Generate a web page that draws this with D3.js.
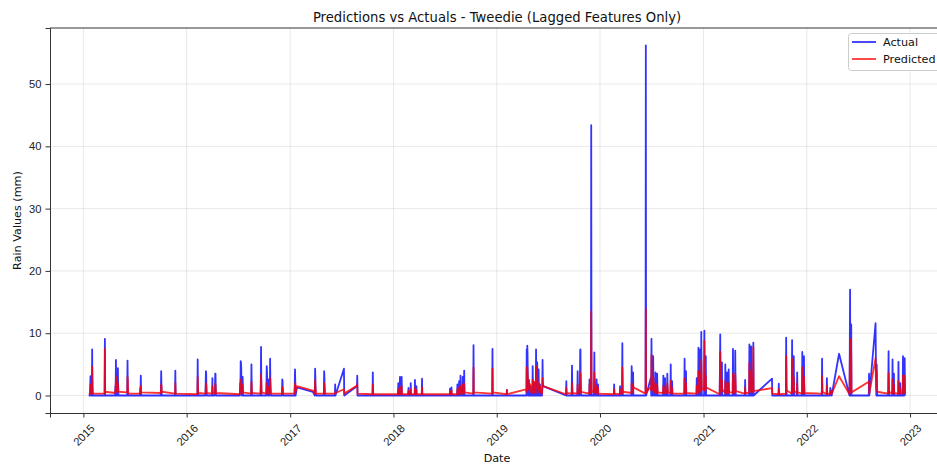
<!DOCTYPE html>
<html>
<head>
<meta charset="utf-8">
<script src="https://cdn.jsdelivr.net/npm/d3@7"></script>
<style>
  body { margin: 0; background: #fff; }
  svg { display: block; font-family: "DejaVu Sans", sans-serif; }
  .tick-label { font-size: 11.2px; fill: #222; }
</style>
</head>
<body>
<svg id="chart" width="937" height="468"></svg>
<script>
// one line per cluster of rainy days, the three arrays stay aligned line by line
const dates = [
  "2015-01-20","2015-01-24","2015-01-25","2015-01-26","2015-01-27","2015-01-28",
  "2015-01-31","2015-02-01","2015-02-02","2015-02-03","2015-02-04",
  "2015-03-17","2015-03-18","2015-03-19",
  "2015-04-23","2015-04-24","2015-04-25","2015-04-26","2015-04-27","2015-04-28","2015-04-30","2015-05-01","2015-05-02","2015-05-03","2015-05-04","2015-05-05",
  "2015-06-05","2015-06-06","2015-06-07","2015-06-08","2015-06-09",
  "2015-07-20","2015-07-21","2015-07-22","2015-07-23","2015-07-24",
  "2015-10-01","2015-10-02","2015-10-03","2015-10-04","2015-10-05",
  "2015-11-21","2015-11-22","2015-11-23","2015-11-24",
  "2016-02-08","2016-02-09","2016-02-10","2016-02-11",
  "2016-03-07","2016-03-08","2016-03-09","2016-03-10","2016-03-11","2016-03-12",
  "2016-03-31","2016-04-01","2016-04-02",
  "2016-04-09","2016-04-10","2016-04-11","2016-04-12","2016-04-13","2016-04-14",
  "2016-07-07","2016-07-08","2016-07-09","2016-07-10","2016-07-11","2016-07-12","2016-07-13","2016-07-14","2016-07-16","2016-07-17","2016-07-18",
  "2016-08-16","2016-08-17","2016-08-18","2016-08-19",
  "2016-09-18","2016-09-19","2016-09-20","2016-09-21","2016-09-22",
  "2016-10-08","2016-10-09","2016-10-10","2016-10-11","2016-10-12","2016-10-13","2016-10-15","2016-10-16","2016-10-17",
  "2016-10-20","2016-10-21","2016-10-22","2016-10-23","2016-10-24","2016-10-25",
  "2016-12-03","2016-12-04","2016-12-05","2016-12-06","2016-12-07",
  "2017-01-16","2017-01-17","2017-01-18","2017-01-19","2017-01-20","2017-01-25",
  "2017-03-22","2017-03-29","2017-03-30","2017-03-31","2017-04-01","2017-04-02",
  "2017-04-30","2017-05-01","2017-05-02","2017-05-03","2017-05-04",
  "2017-06-08","2017-06-09","2017-06-10",
  "2017-07-10","2017-07-11",
  "2017-08-25","2017-08-26","2017-08-27",
  "2017-10-19","2017-10-20","2017-10-21",
  "2018-01-17","2018-01-18","2018-01-19","2018-01-23","2018-01-24","2018-01-25","2018-01-29","2018-01-30","2018-01-31",
  "2018-02-22","2018-02-23","2018-02-24","2018-03-02","2018-03-03","2018-03-04",
  "2018-03-17","2018-03-18","2018-03-19","2018-03-22","2018-03-23","2018-03-24","2018-04-11","2018-04-12","2018-04-13",
  "2018-07-19","2018-07-20","2018-07-21","2018-07-24","2018-07-25","2018-07-26",
  "2018-08-14","2018-08-15","2018-08-16","2018-08-17","2018-08-20","2018-08-21","2018-08-22","2018-08-23",
  "2018-08-25","2018-08-26","2018-08-27","2018-08-28","2018-09-02","2018-09-03","2018-09-04","2018-09-05","2018-09-06","2018-09-07","2018-09-08","2018-09-09",
  "2018-10-10","2018-10-11","2018-10-12","2018-12-16","2018-12-17","2018-12-18",
  "2019-02-05","2019-02-06","2019-02-07","2019-04-14",
  "2019-04-16","2019-04-17","2019-04-18","2019-04-19","2019-04-20","2019-04-21","2019-04-22","2019-04-23","2019-04-24","2019-04-25","2019-04-26","2019-04-27",
  "2019-04-29","2019-04-30","2019-05-01","2019-05-02","2019-05-07","2019-05-08","2019-05-09","2019-05-10","2019-05-13","2019-05-14","2019-05-15","2019-05-16",
  "2019-05-19","2019-05-20","2019-05-21","2019-05-22","2019-05-23","2019-05-24","2019-05-25","2019-05-26","2019-05-28","2019-05-29","2019-05-30","2019-05-31",
  "2019-06-02","2019-06-03","2019-06-04","2019-06-05","2019-06-10","2019-06-11","2019-06-12","2019-06-13","2019-06-14",
  "2019-09-03","2019-09-04","2019-09-05","2019-09-23","2019-09-24","2019-09-25","2019-09-26",
  "2019-10-13","2019-10-14","2019-10-15","2019-10-16","2019-10-21","2019-10-22","2019-10-23","2019-10-24","2019-10-25","2019-10-26",
  "2019-11-24","2019-11-25","2019-11-26","2019-11-27","2019-11-30","2019-12-01","2019-12-02","2019-12-03",
  "2019-12-10","2019-12-11","2019-12-12","2019-12-13","2019-12-14","2019-12-18","2019-12-19","2019-12-20","2019-12-21","2019-12-24","2019-12-25","2019-12-26",
  "2020-02-19","2020-02-20","2020-02-21","2020-03-11","2020-03-12","2020-03-13","2020-03-19","2020-03-20","2020-03-21","2020-03-22",
  "2020-04-21","2020-04-22","2020-04-23","2020-04-24","2020-04-26","2020-04-27","2020-04-28",
  "2020-06-10","2020-06-11","2020-06-12","2020-06-29","2020-06-30","2020-07-01","2020-07-02","2020-07-03",
  "2020-07-06","2020-07-07","2020-07-08","2020-07-09","2020-07-10","2020-07-14","2020-07-15","2020-07-16","2020-07-20","2020-07-21","2020-07-22","2020-07-23",
  "2020-08-11","2020-08-12","2020-08-13","2020-08-17","2020-08-18","2020-08-19","2020-08-25","2020-08-26","2020-08-27","2020-08-28",
  "2020-09-06","2020-09-07","2020-09-08","2020-09-11","2020-09-12","2020-09-13","2020-10-25","2020-10-26","2020-10-27","2020-10-28","2020-10-30","2020-10-31","2020-11-01",
  "2020-12-07","2020-12-08","2020-12-09","2020-12-13","2020-12-14","2020-12-15","2020-12-16","2020-12-19","2020-12-20","2020-12-21","2020-12-23","2020-12-24","2020-12-25","2020-12-26",
  "2021-01-03","2021-01-04","2021-01-05","2021-01-06","2021-01-08","2021-01-09","2021-01-10",
  "2021-02-27","2021-03-01","2021-03-02","2021-03-03","2021-03-06","2021-03-07","2021-03-08","2021-03-18","2021-03-19","2021-03-20","2021-03-24","2021-03-25","2021-03-26","2021-03-30","2021-03-31","2021-04-01",
  "2021-04-14","2021-04-15","2021-04-16","2021-04-17","2021-04-22","2021-04-23","2021-04-24","2021-04-25",
  "2021-05-27","2021-05-28","2021-05-29","2021-06-11","2021-06-12","2021-06-13","2021-06-14","2021-06-17","2021-06-18","2021-06-19","2021-06-20","2021-06-25","2021-06-26","2021-06-27",
  "2021-08-31","2021-09-01","2021-09-23","2021-09-24","2021-09-25",
  "2021-10-19","2021-10-20","2021-10-21","2021-10-22","2021-11-09","2021-11-10","2021-11-11","2021-11-12","2021-11-15","2021-11-16","2021-11-17","2021-11-27","2021-11-28","2021-11-29",
  "2021-12-15","2021-12-16","2021-12-17","2021-12-21","2021-12-22","2021-12-23","2021-12-24",
  "2022-02-23","2022-02-24","2022-02-25","2022-03-12","2022-03-13","2022-03-14","2022-03-24","2022-03-25","2022-03-30",
  "2022-04-25","2022-06-01","2022-06-03","2022-06-04","2022-06-06","2022-06-07","2022-06-08",
  "2022-08-08","2022-08-09","2022-08-10","2022-09-01","2022-09-02","2022-09-03","2022-09-04","2022-09-05","2022-09-06","2022-09-07",
  "2022-10-15","2022-10-16","2022-10-17","2022-10-18","2022-10-19","2022-10-30","2022-10-31","2022-11-01","2022-11-02","2022-11-04","2022-11-05","2022-11-06",
  "2022-11-20","2022-11-21","2022-11-22","2022-11-23","2022-11-26","2022-11-27","2022-11-28","2022-12-05","2022-12-06","2022-12-07","2022-12-08","2022-12-09","2022-12-11","2022-12-12","2022-12-13","2022-12-14"
];

const actual = [
  0,0,1.2,3.1,0.5,0,
  0,7.4,1.2,0,0,
  0,9.1,0,
  0,1.5,0,5.7,2.0,0,0,2.5,0,4.4,1.0,0,
  0,5.6,1.0,0,0,
  0,1.2,0.8,3.2,0,
  0,1.0,3.9,1.5,0,
  0,4.0,0,0,
  0,5.8,0.8,0,
  0,1.2,3.9,3.6,0.6,0,
  0,2.8,0,
  0,1.0,3.5,3.5,0.5,0,
  0,2.0,1.0,5.5,5.3,4.4,0.8,0,0,3.0,0,
  0,5.0,1.2,0,
  0,2.0,7.8,1.0,0,
  0,1.5,4.7,3.9,0.6,0,0,2.6,0,
  0,1.0,5.9,2.0,0.5,0,
  0,2.6,2.3,0.4,0,
  0,1.5,4.2,2.0,0,1.3,
  0.6,0,4.3,2.8,0.5,0,
  0,3.9,3.0,0.4,0,
  0,1.8,0,
  4.3,0,
  1.5,3.2,0,
  0,3.7,0,
  0,2.0,0,0,3.0,0,0,3.0,0,
  0,1.2,0,0,2.0,0,
  0,2.5,0,0,1.5,0,0,2.7,0,
  0,1.1,0,0,1.3,0,
  0,1.8,0.6,0,0,2.3,1.0,0,
  0,3.2,1.0,0,0,3.0,1.2,0,0,1.5,4.0,0,
  0,8.1,0,0,7.5,0,
  0,0.9,0,0,
  0,7.4,1.5,8.0,6.6,2.0,0,0.8,0,2.5,1.0,0,
  0,1.5,0.5,0,0,4.7,1.8,0,0,2.0,0.6,0,
  0,7.4,2.5,1.0,0,5.3,2.0,0,0,4.2,1.0,0,
  0,1.8,0.6,0,0,1.2,5.7,2.0,1.5,
  0,2.3,0,0,4.8,1.0,0,
  0,3.9,0.8,0,0,1.5,7.3,7.4,1.2,0,
  0,2.6,0.8,0,0,43.4,0.8,0,
  0,1.5,6.9,1.0,0,0,1.0,2.6,0,0,1.8,0,
  0,1.8,0,0,1.5,0,0,8.4,1.0,0,
  0,4.7,1.2,0,0,3.7,0,
  0,56.2,0,2.9,0,9.1,1.5,0,
  0,6.3,2.0,0.5,0,0,3.7,0,0,3.5,1.0,0,
  0,3.2,0,0,2.8,0,0,3.5,1.0,0,
  0,5.0,0,0,2.3,0,0,5.9,1.5,0,0,3.9,0,
  0,2.8,0,0,7.7,2.0,0,0,7.4,0,0,10.2,2.5,0,
  0,10.4,2.0,0,0,6.3,0,
  0,9.8,1.5,0,0,5.3,0,0,5.0,0,0,3.7,0,0,4.2,0,
  0,7.5,1.5,0,0,7.2,2.0,0,
  0,2.5,0,0,8.2,1.5,0,0,7.9,2.0,0,0,8.5,0,
  2.7,0,0,1.9,0,
  0,9.3,1.5,0,0,8.9,2.0,0,0,6.3,0,0,3.7,0,
  0,7.0,0,0,6.3,1.0,0,
  0,5.9,0,0,2.8,0,0,1.2,0,
  6.7,0,17.0,0,0,11.4,0,
  0,3.5,0,11.6,6.7,1.0,0,5.0,1.0,0,
  0,1.2,7.1,1.5,0,0,5.8,0.8,0,0,3.5,0,
  0,5.4,1.0,0,0,2.0,0,0,1.5,6.3,1.2,0,0,2.0,6.0,0
];

const predicted = [
  0.2,0.2,0.6,1.8,1.0,0.5,
  0.4,4.6,2.2,0.8,0.3,
  0.3,7.5,0.6,
  0.4,0.8,1.0,3.1,2.5,1.2,0.6,1.4,1.0,2.0,1.6,0.6,
  0.5,3.0,2.4,0.8,0.3,
  0.3,0.6,1.0,1.5,0.5,
  0.4,0.6,1.8,1.6,0.6,
  0.3,2.0,0.6,0.3,
  0.2,3.0,1.6,0.4,
  0.3,0.6,2.0,1.8,1.2,0.4,
  0.3,1.5,0.6,
  0.3,0.6,1.9,1.7,1.0,0.4,
  0.2,1.0,1.2,2.6,2.4,1.8,1.5,0.6,0.4,1.8,0.5,
  0.3,2.2,1.4,0.4,
  0.3,1.0,3.4,2.0,0.5,
  0.3,0.8,2.0,1.9,1.2,0.4,0.3,1.4,0.5,
  0.3,0.6,2.8,2.0,1.0,0.3,
  0.3,1.4,1.3,0.9,0.3,
  0.3,0.8,1.8,2.0,0.6,1.5,
  0.8,0.3,2.5,1.4,1.0,0.3,
  0.3,2.0,1.6,0.9,0.3,
  0.3,0.6,0.4,
  1.0,0.3,
  1.6,1.9,0.3,
  0.2,1.8,0.2,
  0.2,1.0,0.2,0.2,1.4,0.2,0.2,1.5,0.2,
  0.2,0.7,0.2,0.2,1.0,0.2,
  0.2,1.2,0.2,0.2,0.9,0.2,0.2,1.3,0.2,
  0.2,0.7,0.2,0.2,0.8,0.2,
  0.2,1.0,0.8,0.3,0.2,1.2,1.0,0.3,
  0.3,1.5,1.2,0.4,0.3,1.8,1.4,0.6,0.3,0.9,1.9,0.5,
  0.3,4.5,0.5,0.3,4.3,0.5,
  0.2,0.9,0.2,1.0,
  0.6,4.5,3.0,4.6,3.5,3.0,1.8,1.5,1.0,2.0,1.6,0.8,
  0.6,1.8,1.2,0.6,0.4,2.5,2.0,0.8,0.5,2.2,1.4,0.6,
  0.4,4.7,3.2,2.5,1.5,3.0,2.6,1.2,0.8,2.0,1.5,0.6,
  0.4,1.6,1.2,0.5,0.3,0.8,2.8,2.2,1.5,
  0.2,1.2,0.4,0.3,2.0,1.4,0.4,
  0.3,1.8,1.2,0.4,0.3,0.8,3.7,3.5,2.2,0.6,
  0.3,1.8,1.2,0.4,0.3,13.5,3.0,0.8,
  0.4,1.0,3.7,2.4,0.8,0.3,0.6,1.6,0.6,0.3,1.2,0.3,
  0.2,1.0,0.3,0.2,1.0,0.4,0.3,4.5,2.0,0.6,
  0.4,2.0,1.5,0.6,0.5,1.8,1.3,
  0.3,13.9,0.4,1.5,0.8,6.5,3.0,1.0,
  0.8,3.0,2.6,1.4,0.6,0.5,2.0,0.8,0.4,1.7,1.2,0.5,
  0.4,1.6,0.8,0.4,1.4,0.6,0.4,1.9,1.3,0.5,
  0.4,2.4,0.8,0.4,1.2,0.3,0.3,2.8,2.0,0.6,0.5,2.0,0.4,
  0.3,1.6,0.6,0.4,3.9,2.8,1.0,0.6,3.5,1.5,0.8,5.8,3.5,1.2,
  0.8,8.8,3.5,1.5,0.8,3.2,1.3,
  0.2,7.0,3.0,1.0,0.6,2.5,1.0,0.4,2.4,0.8,0.4,1.9,0.6,0.4,2.0,0.6,
  0.4,3.5,2.5,0.8,0.4,3.5,2.4,0.7,
  0.3,1.3,0.4,0.4,5.3,2.5,0.8,0.6,4.0,2.5,0.8,0.5,7.8,0.7,
  1.2,0.3,0.2,1.0,0.2,
  0.3,6.3,3.0,0.8,0.3,5.9,3.2,1.0,0.5,3.0,0.8,0.3,2.0,0.5,
  0.3,4.5,1.0,0.4,3.0,1.6,0.4,
  0.3,3.1,0.6,0.2,1.6,0.4,0.2,0.7,0.3,
  3.1,0.2,9.1,1.5,0.8,6.9,0.5,
  2.2,2.3,0.3,6.0,3.0,2.5,1.2,4.0,2.2,0.6,
  0.3,0.6,3.6,2.2,0.6,0.3,2.6,1.5,0.4,0.3,1.8,0.4,
  0.3,2.3,1.5,0.4,0.3,1.2,0.4,0.3,0.8,3.2,2.0,0.6,0.4,1.2,3.2,0.3
];

const yearTicks = [2015, 2016, 2017, 2018, 2019, 2020, 2021, 2022, 2023];
const valueTicks = [0, 10, 20, 30, 40, 50];

const m = { left: 50, top: 28, right: 946, bottom: 413 };

const parse = d3.timeParse('%Y-%m-%d');
if (actual.length !== dates.length || predicted.length !== dates.length) {
  console.error('length mismatch', dates.length, actual.length, predicted.length);
}
const rows = dates.map((d, i) => ({ date: parse(d), actual: actual[i], predicted: predicted[i] }));

const x = d3.scaleTime()
  .domain([new Date(2014, 8, 5), new Date(2023, 4, 8)])
  .range([m.left, m.right]);
const y = d3.scaleLinear()
  .domain([-2.81, 59.0])
  .range([m.bottom, m.top]);

const svg = d3.select('#chart');

svg.append('defs').append('clipPath').attr('id', 'plot-clip')
  .append('rect').attr('x', m.left).attr('y', m.top).attr('width', m.right - m.left).attr('height', m.bottom - m.top);

// grid
const grid = svg.append('g').attr('stroke', '#b0b0b0').attr('stroke-opacity', 0.35).attr('stroke-width', 0.8);
yearTicks.forEach(t => {
  const px = x(new Date(t, 0, 1));
  grid.append('line').attr('x1', px).attr('x2', px).attr('y1', m.top).attr('y2', m.bottom);
});
valueTicks.forEach(t => {
  grid.append('line').attr('x1', m.left).attr('x2', m.right).attr('y1', y(t)).attr('y2', y(t));
});

// lines
const plot = svg.append('g').attr('clip-path', 'url(#plot-clip)');
const lineA = d3.line().x(d => x(d.date)).y(d => y(d.actual));
const lineP = d3.line().x(d => x(d.date)).y(d => y(d.predicted));
plot.append('path').datum(rows).attr('d', lineA)
  .attr('fill', 'none').attr('stroke', 'blue').attr('stroke-opacity', 0.8)
  .attr('stroke-width', 1.8).attr('stroke-linejoin', 'round');
plot.append('path').datum(rows).attr('d', lineP)
  .attr('fill', 'none').attr('stroke', 'red').attr('stroke-opacity', 0.8)
  .attr('stroke-width', 1.8).attr('stroke-linejoin', 'round');

// axes
const xAxis = svg.append('g').attr('transform', `translate(0,${m.bottom})`)
  .call(d3.axisBottom(x).tickValues(yearTicks.map(t => new Date(t, 0, 1))).tickFormat(d3.timeFormat('%Y')).tickSizeOuter(0).tickSize(4.5));
xAxis.select('.domain').attr('stroke', '#333').attr('stroke-width', 1);
xAxis.selectAll('.tick line').attr('stroke', '#333');
xAxis.selectAll('.tick text')
  .attr('class', 'tick-label')
  .attr('y', 0).attr('dy', 0)
  .attr('text-anchor', 'middle')
  .attr('dominant-baseline', 'central')
  .attr('transform', 'translate(0,22) rotate(-45)');

const yAxis = svg.append('g').attr('transform', `translate(${m.left},0)`)
  .call(d3.axisLeft(y).tickValues(valueTicks).tickSizeOuter(0).tickSize(4.5).tickPadding(4));
yAxis.select('.domain').attr('stroke', '#333').attr('stroke-width', 1);
yAxis.selectAll('.tick line').attr('stroke', '#333');
yAxis.selectAll('.tick text').attr('class', 'tick-label');

svg.append('line').attr('x1', m.left).attr('x2', m.right).attr('y1', m.top).attr('y2', m.top)
  .attr('stroke', '#333').attr('stroke-width', 1);

// labels
svg.append('text').attr('x', 497).attr('y', 22)
  .attr('text-anchor', 'middle').attr('font-size', 13.2).attr('fill', '#111')
  .text('Predictions vs Actuals - Tweedie (Lagged Features Only)');
svg.append('text').attr('x', 497).attr('y', 462)
  .attr('text-anchor', 'middle').attr('font-size', 11.2).attr('fill', '#111')
  .text('Date');
svg.append('text').attr('transform', `translate(17,${(m.top + m.bottom) / 2}) rotate(-90)`)
  .attr('text-anchor', 'middle').attr('dominant-baseline', 'central')
  .attr('font-size', 11.2).attr('fill', '#111')
  .text('Rain Values (mm)');

// legend
const legend = svg.append('g');
legend.append('rect').attr('x', 848.5).attr('y', 33.5).attr('width', 110).attr('height', 37)
  .attr('rx', 3).attr('fill', '#fff').attr('fill-opacity', 0.8).attr('stroke', '#ccc');
[['Actual', 'blue', 42], ['Predicted', 'red', 59]].forEach(([label, color, ly]) => {
  legend.append('line').attr('x1', 852).attr('x2', 876).attr('y1', ly).attr('y2', ly)
    .attr('stroke', color).attr('stroke-opacity', 0.8).attr('stroke-width', 1.8);
  legend.append('text').attr('x', 883).attr('y', ly).attr('dominant-baseline', 'central')
    .attr('font-size', 11.2).attr('fill', '#111').text(label);
});
</script>
</body>
</html>
